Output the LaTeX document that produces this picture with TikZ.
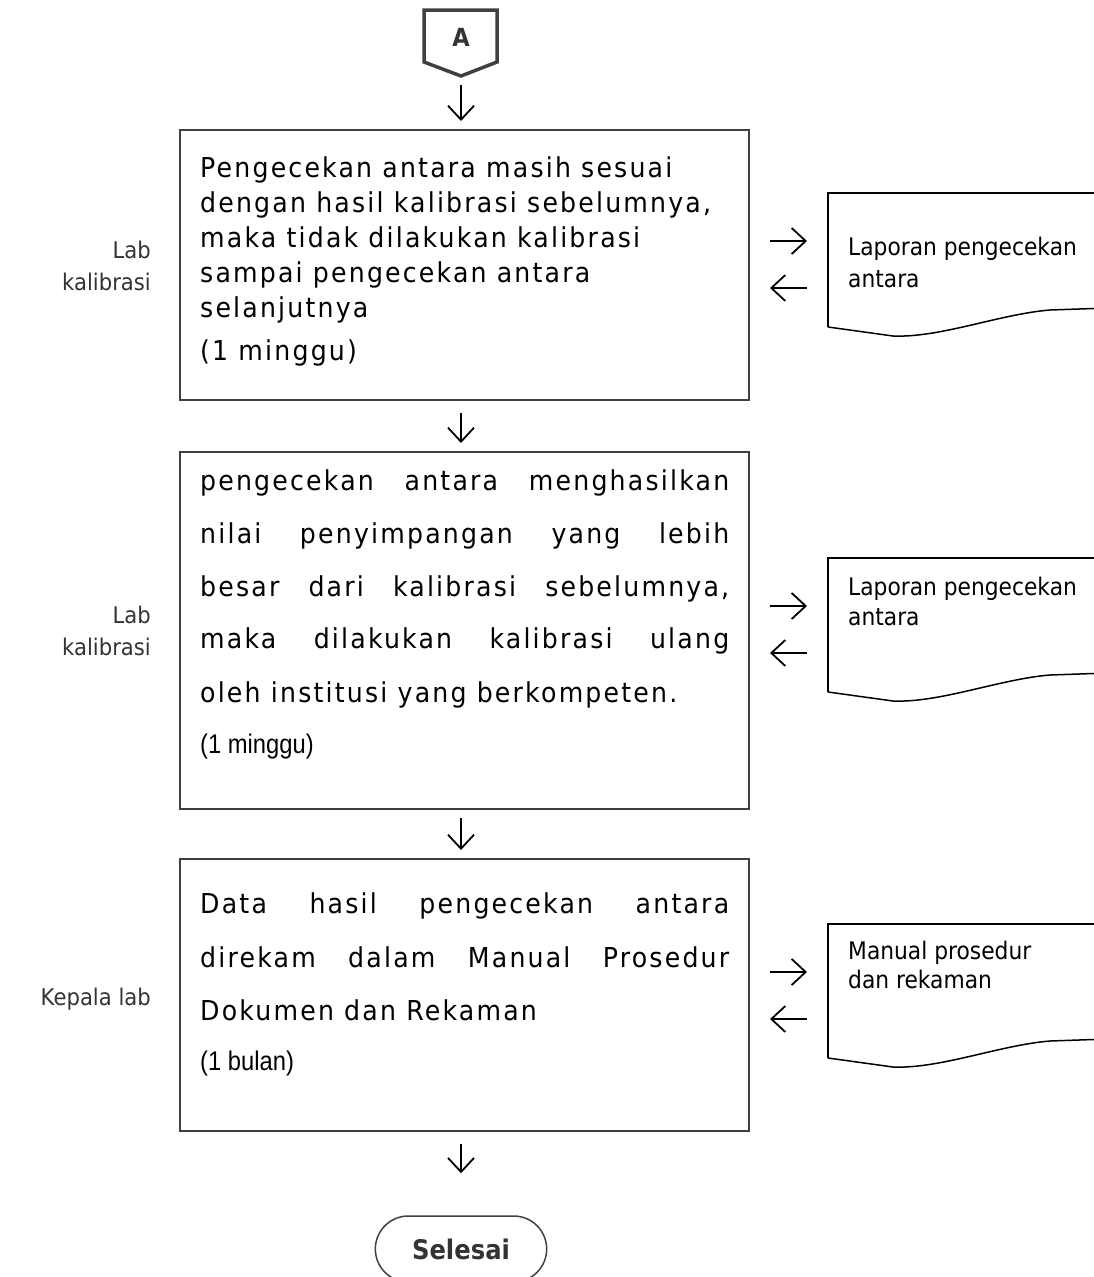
\documentclass[tikz,border=0pt]{standalone}
\usepackage{fontspec}
\setmainfont{DejaVu Sans}[FakeStretch=0.9]
\newfontfamily\trackfont{DejaVu Sans}[FakeStretch=0.92,LetterSpace=8]
\newfontfamily\labfont{DejaVu Sans}[FakeStretch=0.92]
\newfontfamily\narrowfont{Liberation Sans}[FakeStretch=0.88]
\usetikzlibrary{arrows.meta,shapes.misc}
\newcommand\fullline[1]{\makebox[529pt][s]{#1}}

\begin{document}
\begin{tikzpicture}[x=1pt,y=-1pt,
    stepbox/.style={draw=black!75,line width=2pt,minimum width=569pt},
    boxtxt/.style={anchor=base west,inner sep=0pt,font=\trackfont\fontsize{27.4}{30}\selectfont},
    durtxt/.style={anchor=base west,inner sep=0pt,font=\narrowfont\fontsize{27}{30}\selectfont},
    who/.style={anchor=base east,inner sep=0pt,text=black!80,font=\labfont\fontsize{23}{28}\selectfont},
    doctxt/.style={anchor=base west,inner sep=0pt,font=\fontsize{24.2}{28}\selectfont},
    flow/.style={-{Straight Barb[length=14pt,width=26pt]},line width=1.8pt},
    terminal/.style={rounded rectangle,draw=black!75,line width=1.5pt,minimum width=178pt,minimum height=66pt,text=black!80,font=\bfseries\fontsize{27}{30}\selectfont},
    docsheet/.pic={
      \draw[line width=1.5pt] (0,134) -- (0,0) -- (280,0);
      \draw[line width=1.5pt] (0,134) -- (65,143) .. controls (112,145) and (172,121) .. (222,117) -- (280,115);
      \coordinate (-in) at (0,48);
      \coordinate (-out) at (0,95);
    }]
    \useasboundingbox (0,0) rectangle (1094,1277);
    % off-page connector
    \draw[draw=black!75,line width=3.5pt] (424,10) -- (497,10) -- (497,62) -- (461,76) -- (424,62) -- cycle;
    \node[text=black!80,font=\bfseries\fontsize{25}{28}\selectfont] (conA) at (461,37) {A};
    \coordinate (conAtip) at (461,77);

    \node[stepbox,minimum height=270pt] (box1) at (464.5,265) {};
    \node[stepbox,minimum height=357pt] (box2) at (464.5,630.5) {};
    \node[stepbox,minimum height=272pt] (box3) at (464.5,995) {};

    \node[boxtxt] (b1l1) at (200,177) {Pengecekan antara masih sesuai};
    \node[boxtxt] (b1l2) at (200,212) {dengan hasil kalibrasi sebelumnya,};
    \node[boxtxt] (b1l3) at (200,247) {maka tidak dilakukan kalibrasi};
    \node[boxtxt] (b1l4) at (200,282) {sampai pengecekan antara};
    \node[boxtxt] (b1l5) at (200,317) {selanjutnya};
    \node[boxtxt] (b1l6) at (200,360) {(1 minggu)};

    \node[boxtxt] (b2l1) at (200,490) {\fullline{pengecekan antara menghasilkan}};
    \node[boxtxt] (b2l2) at (200,543) {\fullline{nilai penyimpangan yang lebih}};
    \node[boxtxt] (b2l3) at (200,596) {\fullline{besar dari kalibrasi sebelumnya,}};
    \node[boxtxt] (b2l4) at (200,648) {\fullline{maka dilakukan kalibrasi ulang}};
    \node[boxtxt] (b2l5) at (200,702) {oleh institusi yang berkompeten.};
    \node[durtxt] (b2l6) at (200,753) {(1 minggu)};

    \node[boxtxt] (b3l1) at (200,913) {\fullline{Data hasil pengecekan antara}};
    \node[boxtxt] (b3l2) at (200,967) {\fullline{direkam dalam Manual Prosedur}};
    \node[boxtxt] (b3l3) at (200,1020) {Dokumen dan Rekaman};
    \node[durtxt] (b3l4) at (200,1070) {(1 bulan)};

    % who does it
    \node[who] (who1a) at (151,258) {Lab};
    \node[who] (who1b) at (151,290) {kalibrasi};
    \node[who] (who2a) at (151,623) {Lab};
    \node[who] (who2b) at (151,655) {kalibrasi};
    \node[who] (who3) at (151,1005) {Kepala lab};

    % documents
    \pic (doc1) at (828,193) {docsheet};
    \pic (doc2) at (828,558) {docsheet};
    \pic (doc3) at (828,924) {docsheet};
    \node[doctxt] (d1a) at (848,255) {Laporan pengecekan};
    \node[doctxt] (d1b) at (848,287) {antara};
    \node[doctxt] (d2a) at (848,595) {Laporan pengecekan};
    \node[doctxt] (d2b) at (848,625) {antara};
    \node[doctxt] (d3a) at (848,959) {Manual prosedur};
    \node[doctxt] (d3b) at (848,988) {dan rekaman};

    \node[terminal] (stop) at (461,1249) {Selesai};

    % arrows
    \draw[flow,shorten <=8pt,shorten >=8pt] (conAtip) -- (conAtip |- box1.north);
    \draw[flow,shorten <=12pt,shorten >=8pt] (conAtip |- box1.south) -- (conAtip |- box2.north);
    \draw[flow,shorten <=8pt,shorten >=8pt] (conAtip |- box2.south) -- (conAtip |- box3.north);
    \draw[flow,shorten <=12pt,shorten >=42pt] (conAtip |- box3.south) -- (stop.north);
    \draw[flow,shorten <=20pt,shorten >=21pt] (box1.east |- doc1-in) -- (doc1-in);
    \draw[flow,shorten <=21pt,shorten >=20pt] (doc1-out) -- (box1.east |- doc1-out);
    \draw[flow,shorten <=20pt,shorten >=21pt] (box2.east |- doc2-in) -- (doc2-in);
    \draw[flow,shorten <=21pt,shorten >=20pt] (doc2-out) -- (box2.east |- doc2-out);
    \draw[flow,shorten <=20pt,shorten >=21pt] (box3.east |- doc3-in) -- (doc3-in);
    \draw[flow,shorten <=21pt,shorten >=20pt] (doc3-out) -- (box3.east |- doc3-out);
\end{tikzpicture}
\end{document}
